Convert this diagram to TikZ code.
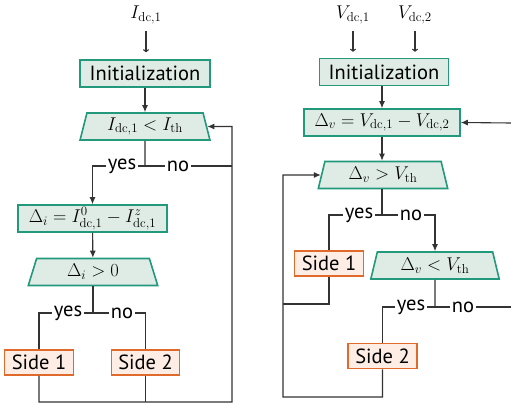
\RequirePackage{fix-cm}
\documentclass[tikz,border=0pt]{standalone}
\usepackage{fontspec}
\newfontfamily\labelsf{PT Sans}
\usetikzlibrary{shapes.geometric,arrows.meta,calc}
\definecolor{boxgreen}{HTML}{21997A}
\definecolor{boxfill}{HTML}{DFECE5}
\definecolor{sideorange}{HTML}{E06A2C}
\definecolor{sidefill}{HTML}{FDEDE5}
\definecolor{linegray}{HTML}{333333}
\tikzset{
  txt/.style={font=\labelsf\fontsize{20.5}{23}\selectfont},
  mth/.style={font=\fontsize{18.5}{21}\selectfont},
  proc/.style={draw=boxgreen, fill=boxfill, line width=1.6pt, minimum height=27pt, inner sep=0pt},
  dec/.style={trapezium, trapezium left angle=76, trapezium right angle=76,
    trapezium stretches=true, draw=boxgreen, fill=boxfill, line width=1.6pt,
    minimum height=27pt, inner sep=0pt},
  sidebox/.style={draw=sideorange, fill=sidefill, line width=1.6pt, minimum width=69pt,
    minimum height=25pt, inner sep=0pt, txt},
  flow/.style={draw=linegray, line width=1.1pt},
  arr/.style={flow, -{Latex[length=7pt,width=6pt]}},
  inarr/.style={flow, -{To[length=3pt,width=6pt]}},
  lab/.style={fill=white, inner sep=1.5pt, txt},
}
\begin{document}
\begin{tikzpicture}[x=1pt,y=-1pt]
\useasboundingbox (0,0) rectangle (511,404);

% ---- left chart: current based ----
\node[mth] (lblI) at (146,15) {$I_{\mathrm{dc},1}$};
\node[proc, txt, minimum width=130pt] (init1) at (145,73.5) {Initialization};
\node[dec, mth, minimum width=131pt] (dec1) at (145,126.5) {$I_{\mathrm{dc},1} < I_{\mathrm{th}}$};
\coordinate (j1) at (145,166);
\node[proc, mth, minimum width=149pt] (deltai) at (92.5,218.5) {$\Delta_i = I^{0}_{\mathrm{dc},1} - I^{z}_{\mathrm{dc},1}$};
\node[dec, mth, minimum width=130pt] (dec2) at (93,272) {$\Delta_i > 0$};
\coordinate (j2) at (93,313);
\node[sidebox] (side1L) at (39,362.5) {Side 1};
\node[sidebox, minimum width=68pt] (side2L) at (145.5,362.5) {Side 2};
\coordinate (loopL) at (232,402);

\draw[inarr, shorten <=4pt, shorten >=7pt] (lblI) -- (lblI |- init1.north);
\draw[arr] (init1) -- (dec1);
\draw[flow] (dec1) -- (j1);
\draw[arr] (j1) -| (deltai.north);
\draw[flow] (j1) -- (j1 -| loopL);
\draw[arr] (side1L) -- (side1L |- loopL) -- (loopL) -- (loopL |- dec1) -- (dec1.east);
\draw[flow] (side2L) -- (side2L |- loopL);
\draw[arr] (deltai) -- (dec2);
\draw[flow] (dec2) -- (j2);
\draw[flow] (j2) -| (side1L);
\draw[flow] (j2) -| (side2L);
\node[lab] at (122,166) {yes};
\node[lab] at (178,166) {no};
\node[lab] at (68,313) {yes};
\node[lab] at (122,313) {no};

% ---- right chart: voltage based ----
\node[mth] (lblV1) at (353,15) {$V_{\mathrm{dc},1}$};
\node[mth] (lblV2) at (415,15) {$V_{\mathrm{dc},2}$};
\node[proc, txt, minimum width=129pt] (init2) at (384,72) {Initialization};
\node[proc, mth, minimum width=156pt] (deltav) at (382,122.5) {$\Delta_v = V_{\mathrm{dc},1} - V_{\mathrm{dc},2}$};
\node[dec, mth, minimum width=130pt] (dec3) at (383,175) {$\Delta_v > V_{\mathrm{th}}$};
\coordinate (j3) at (382,215);
\node[sidebox] (side1R) at (329,263.5) {Side 1};
\node[dec, mth, minimum width=129pt] (dec4) at (435,265.5) {$\Delta_v < V_{\mathrm{th}}$};
\coordinate (j4) at (435,307);
\node[sidebox] (side2R) at (382.5,356) {Side 2};
\coordinate (loopR) at (283,397);
\coordinate (mR) at (283,304);
\coordinate (rin) at (511,123);
\coordinate (rout) at (511,307);

\draw[inarr, shorten <=4pt, shorten >=6pt] (lblV1) -- (lblV1 |- init2.north);
\draw[inarr, shorten <=4pt, shorten >=6pt] (lblV2) -- (lblV2 |- init2.north);
\draw[arr] (init2.south -| deltav.north) -- (deltav.north);
\draw[arr] (rin) -- (deltav.east);
\draw[arr] (deltav) -- (deltav |- dec3.north);
\draw[flow] (dec3.south -| j3) -- (j3);
\draw[flow] (j3) -| (side1R);
\draw[arr] (j3) -| (dec4.north);
\draw[flow] (side1R) |- (mR);
\draw[arr] (side2R) -- (side2R |- loopR) -- (loopR) -- (loopR |- dec3) -- (dec3.west);
\draw[flow] (dec4) -- (j4);
\draw[flow] (j4) -| (side2R);
\draw[flow] (j4) -- (rout);
\node[lab] at (359,215) {yes};
\node[lab] at (411,215) {no};
\node[lab] at (411,307) {yes};
\node[lab] at (463,307) {no};
\end{tikzpicture}
\end{document}
